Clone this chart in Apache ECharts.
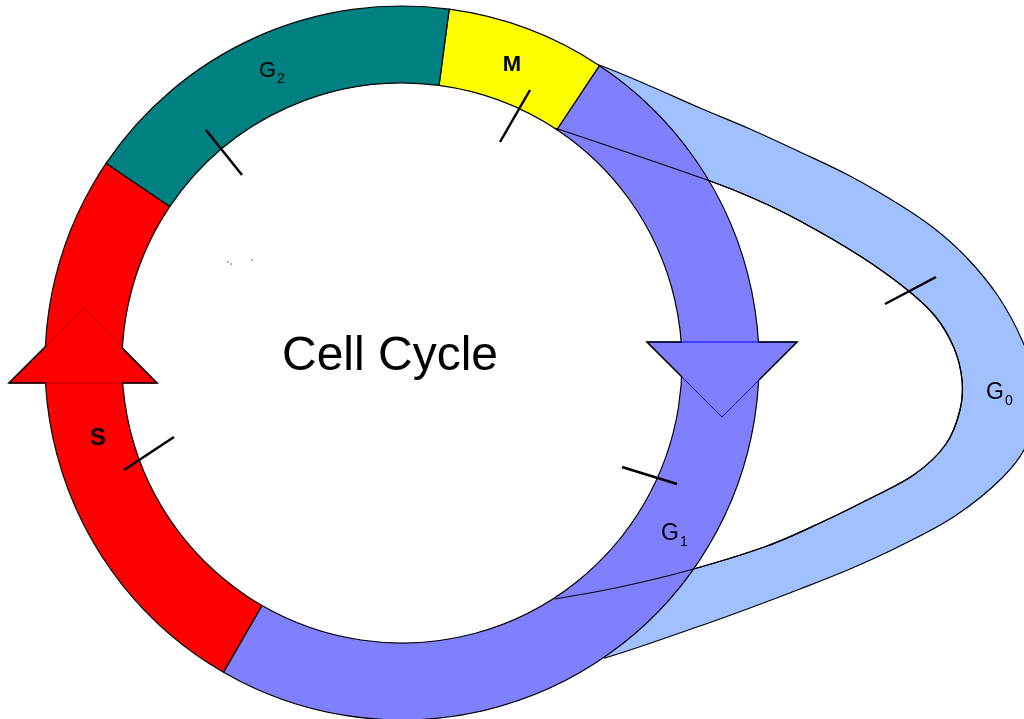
<!DOCTYPE html>
<html>
<head>
<meta charset="utf-8">
<script src="https://cdn.jsdelivr.net/npm/echarts@6/dist/echarts.min.js"></script>
<style>
  html, body { margin: 0; padding: 0; background: #fff; }
  #main { width: 1024px; height: 719px; }
</style>
</head>
<body>
<div id="main"></div>
<script>
// ring phases, clockwise from the top (degrees of the cycle)
const phases = ['M', 'G1', 'S', 'G2'];
const phaseSpan = [26, 176.4, 94, 63.6];
const ringStart = 7.6; // M starts this many degrees past 12 o'clock
const phaseColors = ['#ffff00', '#8080ff', '#ff0000', '#008080'];

// G0 loop, outer edge then inner edge (page coords); the short steps at the ends hide under the ring
const g0Outer = [[596, 64], [650, 86], [700, 108], [750, 129], [800, 152], [850, 176], [900, 205],
  [935, 229], [967, 258], [998, 296], [1022, 340], [1040, 392], [1027, 444], [1002, 478],
  [955, 516], [900, 546], [850, 569], [800, 589], [750, 608], [700, 626], [605, 658], [603, 655]];
const g0Inner = [[557, 601], [555, 599], [620, 587], [690, 570], [767, 546], [820, 523], [867, 500],
  [915, 474], [946, 444], [960, 410], [962, 380], [954, 348], [935, 316], [905, 288], [860, 256],
  [800, 221], [755, 199], [710, 181], [555, 128], [557, 125], [594, 67]];

// arrow heads, the stretch of their edge that lies over the ring, and the black edge outside it
const redArrow = [[84, 308], [157, 383], [9, 383]];
const redArrowInner = [[46, 346], [84, 308], [122, 348]];
const redArrowOuter = [[[46, 383], [9, 383], [46, 346]], [[122, 383], [157, 383], [122, 348]]];
const blueArrow = [[647, 342], [797, 342], [722, 417]];
const blueArrowInner = [[682, 377], [722, 417], [759, 380]];
const blueArrowOuter = [[[682, 342], [647, 342], [682, 377]], [[758, 342], [797, 342], [759, 380]]];

// little checkpoint ticks across the bands
const tickMarks = [
  [500, 142, 530, 90],
  [206, 130, 242, 175],
  [124, 470, 174, 437],
  [622, 467, 677, 484],
  [885, 304, 936, 277]
];

// texts: main text and subscript; the phase names with a subscript are anchored where G meets its digit
const labelTexts = ['Cell Cycle', 'G', 'M', 'S', 'G', 'G'];
const labelSubs = ['', '2', '', '', '1', '0'];
const labelX = [390, 276, 512, 98, 679, 1004];
const labelY = [357, 71, 65, 438, 534, 393];

// specks left in the picture
const specks = [[228, 262], [231, 264], [252, 260]];

const labelFonts = [
  'normal 48px "Liberation Sans"',
  'normal 22px "Liberation Sans"',
  'bold 22px "Liberation Sans"',
  'bold 24px "Liberation Sans"',
  'normal 23px "Liberation Sans"',
  'normal 23px "Liberation Sans"'
];
const subFont = 'normal 14px "Liberation Sans"';

let chart = echarts.init(document.getElementById('main'));

function shapeSeries(kind, lists, z, style) {
  return {
    type: 'custom',
    z: z,
    silent: true,
    clip: false,
    data: lists.map(pts => [pts[0][0], pts[0][1]]),
    renderItem: function (params, api) {
      let pts = lists[params.dataIndex];
      return {
        type: kind,
        shape: { points: pts.map(p => api.coord(p)), smooth: style.smooth || 0 },
        style: {
          fill: kind === 'polygon' ? style.fill : null,
          stroke: style.stroke,
          lineWidth: style.lineWidth,
          lineJoin: 'miter'
        }
      };
    }
  };
}

chart.setOption({
  animation: false,
  backgroundColor: '#fff',
  grid: { left: 0, right: 0, top: 0, bottom: 0 },
  xAxis: { type: 'value', min: 0, max: 1024, show: false },
  yAxis: { type: 'value', min: 0, max: 719, inverse: true, show: false },
  series: [
    // G0 band sits under the ring
    shapeSeries('polygon', [g0Outer.concat(g0Inner)], 1, { fill: '#a0c0ff', stroke: '#000', lineWidth: 1.2, smooth: 0.35 }),
    {
      type: 'pie',
      z: 3,
      silent: true,
      center: [402, 363],
      radius: [280, 357],
      startAngle: 90 - ringStart,
      clockwise: true,
      label: { show: false },
      labelLine: { show: false },
      emphasis: { disabled: true },
      itemStyle: { borderColor: '#000', borderWidth: 1.2 },
      data: phases.map((p, i) => ({ name: p, value: phaseSpan[i], itemStyle: { color: phaseColors[i] } }))
    },
    // arrow heads lie over the ring
    shapeSeries('polygon', [redArrow], 4, { fill: '#ff0000', stroke: '#c00000', lineWidth: 1 }),
    shapeSeries('polygon', [blueArrow], 4, { fill: '#8080ff', stroke: '#0000ff', lineWidth: 1 }),
    shapeSeries('polyline', redArrowOuter.concat(blueArrowOuter), 5, { stroke: '#000', lineWidth: 1.6 }),
    shapeSeries('polyline', [g0Inner.slice(1, -2)], 5, { stroke: '#000', lineWidth: 1.2, smooth: 0.35 }),
    {
      type: 'custom',
      z: 6,
      silent: true,
      data: tickMarks,
      renderItem: function (params, api) {
        let a = api.coord([api.value(0), api.value(1)]);
        let b = api.coord([api.value(2), api.value(3)]);
        return {
          type: 'line',
          shape: { x1: a[0], y1: a[1], x2: b[0], y2: b[1] },
          style: { stroke: '#000', lineWidth: 2.5 }
        };
      }
    },
    {
      type: 'scatter',
      z: 6,
      silent: true,
      symbolSize: 2,
      itemStyle: { color: '#777' },
      data: specks
    },
    {
      type: 'custom',
      z: 7,
      silent: true,
      data: labelX.map((x, i) => [x, labelY[i]]),
      renderItem: function (params, api) {
        let i = params.dataIndex;
        let p = api.coord([api.value(0), api.value(1)]);
        let hasSub = labelSubs[i] !== '';
        let children = [{
          type: 'text',
          style: {
            text: labelTexts[i],
            font: labelFonts[i],
            fill: '#000',
            align: hasSub ? 'right' : 'center',
            verticalAlign: 'middle'
          }
        }];
        if (hasSub) {
          children.push({
            type: 'text',
            x: 1,
            y: 8,
            style: { text: labelSubs[i], font: subFont, fill: '#000', align: 'left', verticalAlign: 'middle' }
          });
        }
        return { type: 'group', x: p[0], y: p[1], children: children };
      }
    }
  ]
});

window.onresize = function () {
  chart.resize();
};
</script>
</body>
</html>
